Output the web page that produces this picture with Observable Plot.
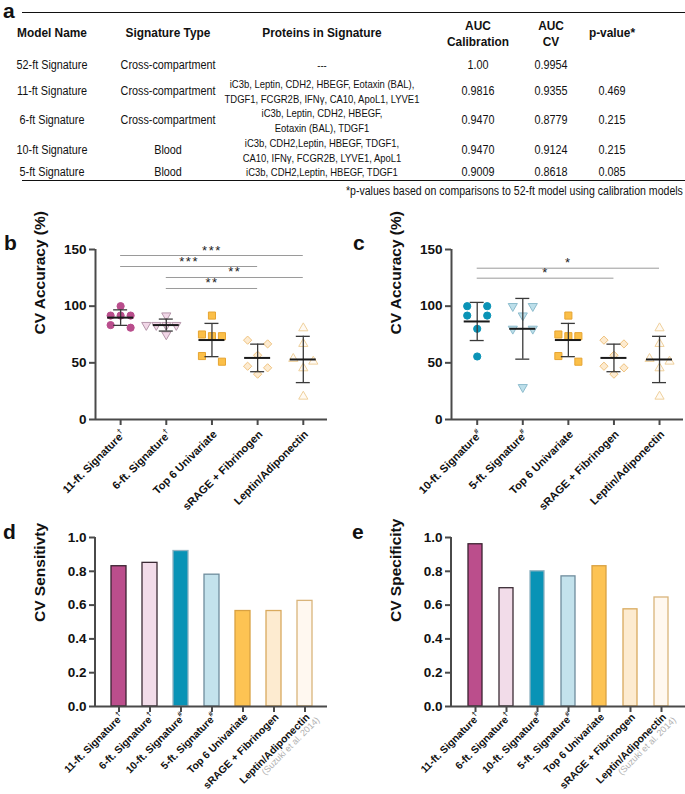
<!DOCTYPE html>
<html><head><meta charset="utf-8">
<script src="https://cdn.jsdelivr.net/npm/d3@7"></script>
<script src="https://cdn.jsdelivr.net/npm/@observablehq/plot@0.6"></script>
<style>
body{margin:0;width:685px;height:794px;position:relative;background:#fff;overflow:hidden;font-family:"Liberation Sans",Arial,sans-serif;color:#111}
.cell{position:absolute;white-space:pre;text-align:center;font-family:"Liberation Sans",Arial,sans-serif}
.hdr{font-weight:bold;font-size:12.5px;line-height:15.5px;transform:translate(-50%,-50%) scaleX(0.95)}
.body{font-size:12px;line-height:15px;transform:translate(-50%,-50%) scaleX(0.9)}
.prot{font-size:11px;line-height:14.5px;transform:translate(-50%,-50%) scaleX(0.86)}
.rule{position:absolute;left:22px;right:0;height:0;border-top:1.6px solid #111}
.foot{position:absolute;right:2px;top:184px;font-size:12px;white-space:nowrap;transform:scaleX(0.88);transform-origin:right center}
.letter{position:absolute;font:bold 21px "Liberation Sans",Arial,sans-serif;line-height:1}
.panel{position:absolute}
</style></head>
<body>
<script>
// ---------- data ----------
const tableHeaders = ["Model Name", "Signature Type", "Proteins in Signature", "AUC\nCalibration", "AUC\nCV", "p-value*"];
const modelNames = ["52-ft Signature", "11-ft Signature", "6-ft Signature", "10-ft Signature", "5-ft Signature"];
const signatureTypes = ["Cross-compartment", "Cross-compartment", "Cross-compartment", "Blood", "Blood"];
const proteinLists = [
  "---",
  "iC3b, Leptin, CDH2, HBEGF, Eotaxin (BAL),\nTDGF1, FCGR2B, IFNγ, CA10, ApoL1, LYVE1",
  "iC3b, Leptin, CDH2, HBEGF,\nEotaxin (BAL), TDGF1",
  "iC3b, CDH2,Leptin, HBEGF, TDGF1,\nCA10, IFNγ, FCGR2B, LYVE1, ApoL1",
  "iC3b, CDH2,Leptin, HBEGF, TDGF1"
];
const aucCalibration = ["1.00", "0.9816", "0.9470", "0.9470", "0.9009"];
const aucCV = ["0.9954", "0.9355", "0.8779", "0.9124", "0.8618"];
const pValues = ["", "0.469", "0.215", "0.215", "0.085"];
const footnote = "*p-values based on comparisons to 52-ft model using calibration models";

const accCategoriesB = ["11-ft. Signature†", "6-ft. Signature†", "Top 6 Univariate", "sRAGE + Fibrinogen", "Leptin/Adiponectin"];
const accCategoriesC = ["10-ft. Signature#", "5-ft. Signature#", "Top 6 Univariate", "sRAGE + Fibrinogen", "Leptin/Adiponectin"];
const acc11ft = [100, 91.7, 91.7, 91.7, 83.3, 81];
const acc6ft = [91.7, 83.3, 83.3, 83.3, 83.3, 75];
const accTop6 = [91.7, 75, 73.5, 73.5, 56, 51];
const accSrageFib = [70, 66.7, 56.7, 47, 45.6, 40];
const accLeptinAdipo = [80.6, 66.8, 53.6, 51.2, 45.3, 20.3];
const acc10ft = [100, 100, 91.7, 91.7, 80, 55.6];
const acc5ft = [100, 100, 91.7, 80, 80, 28.5];
const accTicks = [0, 50, 100, 150];
const sigPairsB = [[0, 4, "***"], [0, 3, "***"], [1, 4, "**"], [1, 3, "**"]];
const sigPairsC = [[0, 4, "*"], [0, 3, "*"]];

const barCategories = ["11-ft. Signature†", "6-ft. Signature†", "10-ft. Signature#", "5-ft. Signature#", "Top 6 Univariate", "sRAGE + Fibrinogen", "Leptin/Adiponectin"];
const barNotes = ["", "", "", "", "", "", "(Suzuki et al. 2014)"];
const cvSensitivity = [0.83, 0.85, 0.92, 0.78, 0.565, 0.565, 0.625];
const cvSpecificity = [0.96, 0.70, 0.80, 0.77, 0.83, 0.575, 0.645];
const rateTicks = [0, 0.2, 0.4, 0.6, 0.8, 1.0];

// ---------- styles ----------
const triangleDown = {draw(ctx, size) {
  const y = -Math.sqrt(size / (3 * Math.sqrt(3)));
  ctx.moveTo(0, -2 * y); ctx.lineTo(-Math.sqrt(3) * y, y); ctx.lineTo(Math.sqrt(3) * y, y); ctx.closePath();
}};
const st11 = {symbol: "circle", r: 3.6, fill: "#b94d8c", stroke: "#b94d8c"};
const st6 = {symbol: triangleDown, r: 3.4, fill: "#f1d7e7", stroke: "#b596aa"};
const st10 = {symbol: "circle", r: 3.6, fill: "#0a93b6", stroke: "#0a93b6"};
const st5 = {symbol: triangleDown, r: 3.4, fill: "#bddfea", stroke: "#8dbccd"};
const stTop6 = {symbol: "square", r: 4.0, fill: "#fbbf48", stroke: "#e6a432"};
const stSrage = {symbol: "diamond2", r: 3.7, fill: "#fdebd0", stroke: "#efc27e"};
const stLep = {symbol: "triangle", r: 3.4, fill: "#fffaf3", stroke: "#efd09c"};
const barStyle = {
  "11-ft. Signature†": ["#bb4e8c", "#3b2231"],
  "6-ft. Signature†": ["#f2dce9", "#3b2b35"],
  "10-ft. Signature#": ["#0993b6", "#8fb3c2"],
  "5-ft. Signature#": ["#c3e2ec", "#6f8d9d"],
  "Top 6 Univariate": ["#fdc353", "#d9a142"],
  "sRAGE + Fibrinogen": ["#fdebd0", "#d9aa5e"],
  "Leptin/Adiponectin": ["#fff8f0", "#d9b47a"]
};
const FONT = "'Liberation Sans', Arial, Helvetica, sans-serif";

// ---------- table ----------
function cell(text, x, y, cls) {
  const d = document.createElement("div");
  d.className = "cell " + cls; d.style.left = x + "px"; d.style.top = y + "px"; d.textContent = text;
  document.body.appendChild(d);
}
const colX = [52, 168, 322, 478, 551, 612];
const rowY = [65, 91, 120, 150, 172];
tableHeaders.forEach((h, j) => cell(h, colX[j], 34, "hdr"));
modelNames.forEach((m, i) => {
  cell(m, colX[0], rowY[i], "body");
  cell(signatureTypes[i], colX[1], rowY[i], "body");
  cell(proteinLists[i], colX[2], rowY[i], "prot");
  cell(aucCalibration[i], colX[3], rowY[i], "body");
  cell(aucCV[i], colX[4], rowY[i], "body");
  cell(pValues[i], colX[5], rowY[i], "body");
});
function addDiv(cls, css, text) {
  const d = document.createElement("div"); d.className = cls; Object.assign(d.style, css);
  if (text) d.textContent = text; document.body.appendChild(d); return d;
}
addDiv("rule", {top: "12px"});
addDiv("rule", {top: "180px"});
addDiv("foot", {}, footnote);
addDiv("letter", {left: "3px", top: "0px"}, "a");
addDiv("letter", {left: "4px", top: "232px"}, "b");
addDiv("letter", {left: "353px", top: "232px"}, "c");
addDiv("letter", {left: "3px", top: "521px"}, "d");
addDiv("letter", {left: "352px", top: "521px"}, "e");

// ---------- helpers ----------
function swarm(values, kY) {
  const order = d3.range(values.length).sort((a, b) => values[b] - values[a]);
  const placed = [], offs = new Array(values.length);
  const hit = (p, y, o) => Math.abs(p.y - y) < 8 && Math.abs(p.o - o) < 8;
  for (const i of order) {
    const y = values[i] * kY;
    const hits = placed.filter(p => hit(p, y, 0));
    if (hits.length === 0) { placed.push({i, y, o: 0}); offs[i] = 0; continue; }
    if (hits.length === 1 && hits[0].o === 0 && !placed.some(p => p !== hits[0] && hit(p, hits[0].y, -10))) {
      hits[0].o = -10; offs[hits[0].i] = -10;
      placed.push({i, y, o: 10}); offs[i] = 10; continue;
    }
    for (const c of [-10, 10, -20, 20]) {
      if (!placed.some(p => hit(p, y, c))) { placed.push({i, y, o: c}); offs[i] = c; break; }
    }
  }
  return offs;
}

function decorate(svg) {
  d3.select(svg).selectAll("g[aria-label='x-axis tick label'] text").each(function() {
    const el = this;
    const ts = el.querySelectorAll("tspan");
    if (ts.length === 2) {
      d3.select(ts[1]).attr("fill", "#b0b0b0").attr("font-size", 9).attr("font-weight", "normal").attr("dx", 5);
      return;
    }
    const t = el.textContent;
    if (/[†#]$/.test(t)) {
      el.textContent = t.slice(0, -1);
      d3.select(el).append("tspan").attr("font-size", 7).attr("dy", -5).text(t.slice(-1));
    }
  });
  return svg;
}

function dotPanel({cats, groups, styles, sig, topLevel, step, width, marginLeft, marginRight, xDomain, left}) {
  const height = 295, marginTop = 24, marginBottom = 101;
  const kX = (width - marginLeft - marginRight) / (xDomain[1] - xDomain[0]);
  const kY = (height - marginTop - marginBottom) / 150;
  const pts = [], stats = [];
  groups.forEach((vals, i) => {
    const offs = swarm(vals, kY);
    vals.forEach((v, j) => pts.push({i, v, x: i + offs[j] / kX}));
    const m = d3.mean(vals), s = d3.deviation(vals);
    stats.push({i, mean: m, lo: m - s, hi: m + s});
  });
  const sigData = sig.map(([a, b, t], k) => ({a, b, t, level: topLevel - k * step}));
  const cap = 7 / kX, half = 13 / kX;
  const marks = [
    Plot.ruleY(sigData, {y: "level", x1: "a", x2: "b", stroke: "#9a9a9a", strokeWidth: 1}),
    Plot.text(sigData, {x: d => (d.a + d.b) / 2, y: "level", text: "t", dy: -1, lineAnchor: "bottom", fontSize: 13, fontWeight: "normal", fill: "#222"}),
    ...groups.map((vals, i) => Plot.dot(pts.filter(p => p.i === i), {x: "x", y: "v", ...styles[i], strokeWidth: 1})),
    Plot.ruleX(stats, {x: "i", y1: "lo", y2: "hi", stroke: "#3a3a3a", strokeWidth: 1.3}),
    Plot.ruleY(stats.flatMap(d => [{i: d.i, y: d.lo}, {i: d.i, y: d.hi}]), {y: "y", x1: d => d.i - cap, x2: d => d.i + cap, stroke: "#3a3a3a", strokeWidth: 1.3}),
    Plot.ruleY(stats, {y: "mean", x1: d => d.i - half, x2: d => d.i + half, stroke: "#1a1a1a", strokeWidth: 2}),
    Plot.axisY({ticks: accTicks, tickSize: 6, tickPadding: 3, fontSize: 13.5, label: null, stroke: "#4a4a4a", strokeWidth: 2}),
    Plot.axisX({ticks: d3.range(cats.length), tickFormat: i => cats[i], tickRotate: -45, textAnchor: "end", lineAnchor: "top", tickSize: 6, tickPadding: 4, fontSize: 11, label: null, stroke: "#4a4a4a", strokeWidth: 2}),
    Plot.ruleX([xDomain[0]], {stroke: "#4a4a4a", strokeWidth: 2}),
    Plot.ruleY([0], {stroke: "#4a4a4a", strokeWidth: 2}),
    Plot.text(["CV Accuracy (%)"], {frameAnchor: "left", rotate: -90, dx: -55, fontSize: 15.5, fill: "#111"})
  ];
  const svg = Plot.plot({
    width, height, marginLeft, marginRight, marginTop, marginBottom,
    x: {domain: xDomain}, y: {domain: [0, 150]},
    style: {fontFamily: FONT, fontWeight: "bold", color: "#111", background: "transparent", overflow: "visible"},
    marks
  });
  decorate(svg);
  d3.select(svg).selectAll("text").filter(function() { return /^\*+$/.test(this.textContent); }).style("letter-spacing", "1.5px");
  const wrap = document.createElement("div");
  wrap.className = "panel"; wrap.style.left = left + "px"; wrap.style.top = "225px";
  wrap.appendChild(svg); document.body.appendChild(wrap);
}

function barPanel({values, label, width, marginLeft, marginRight, paddingInner, paddingOuter, left}) {
  const height = 274;
  const data = barCategories.map((c, i) => ({c, v: values[i]}));
  const svg = Plot.plot({
    width, height, marginLeft, marginRight, marginTop: 17, marginBottom: 88,
    x: {domain: barCategories, type: "band", paddingInner, paddingOuter},
    y: {domain: [0, 1]},
    color: {type: "identity"},
    style: {fontFamily: FONT, fontWeight: "bold", color: "#111", background: "transparent", overflow: "visible"},
    marks: [
      Plot.barY(data, {x: "c", y: "v", fill: d => barStyle[d.c][0], stroke: d => barStyle[d.c][1], strokeWidth: 1.3}),
      Plot.axisY({ticks: rateTicks, tickFormat: d3.format(".1f"), tickSize: 6, tickPadding: 3, fontSize: 13.5, label: null, stroke: "#4a4a4a", strokeWidth: 2}),
      Plot.axisX({tickFormat: d => { const i = barCategories.indexOf(d); return barNotes[i] ? d + "\n" + barNotes[i] : d; }, tickRotate: -45, textAnchor: "end", lineAnchor: "top", tickSize: 6, tickPadding: 0, fontSize: 10.4, label: null, stroke: "#4a4a4a", strokeWidth: 2}),
      Plot.ruleY([0], {stroke: "#4a4a4a", strokeWidth: 2}),
      Plot.text([label], {frameAnchor: "left", rotate: -90, dx: -55, fontSize: 15.5, fill: "#111"})
    ]
  });
  decorate(svg);
  d3.select(svg).append("line").attr("x1", marginLeft).attr("x2", marginLeft).attr("y1", 17).attr("y2", height - 88)
    .attr("stroke", "#4a4a4a").attr("stroke-width", 2);
  const wrap = document.createElement("div");
  wrap.className = "panel"; wrap.style.left = left + "px"; wrap.style.top = "520px";
  wrap.appendChild(svg); document.body.appendChild(wrap);
}

dotPanel({cats: accCategoriesB, groups: [acc11ft, acc6ft, accTop6, accSrageFib, accLeptinAdipo],
  styles: [st11, st6, stTop6, stSrage, stLep], sig: sigPairsB, topLevel: 144.7, step: 9.7,
  width: 340, marginLeft: 95, marginRight: 13, xDomain: [-0.55, 4.53], left: 0});
dotPanel({cats: accCategoriesC, groups: [acc10ft, acc5ft, accTop6, accSrageFib, accLeptinAdipo],
  styles: [st10, st5, stTop6, stSrage, stLep], sig: sigPairsC, topLevel: 133.5, step: 8.8,
  width: 345, marginLeft: 111, marginRight: 2, xDomain: [-0.564, 4.526], left: 340});
barPanel({values: cvSensitivity, label: "CV Sensitivty", width: 340, marginLeft: 95, marginRight: 13, paddingInner: 0.53, paddingOuter: 0.47, left: 0});
barPanel({values: cvSpecificity, label: "CV Specificity", width: 345, marginLeft: 111, marginRight: 0, paddingInner: 0.54, paddingOuter: 0.49, left: 340});
</script>
</body></html>
